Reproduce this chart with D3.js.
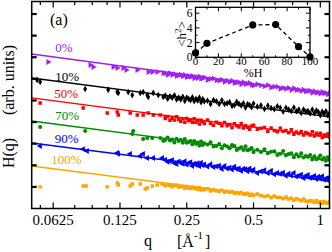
<!DOCTYPE html>
<html><head><meta charset="utf-8">
<script src="https://cdn.jsdelivr.net/npm/d3@7"></script>
<style>
body{margin:0;background:#fff;}
svg{display:block;font-family:"Liberation Serif","Times New Roman",serif;}
</style></head><body>
<svg id="chart" width="332" height="252"></svg>
<script>
// x ticks (log2 spaced) and labels
var qTicks = [0.0625, 0.125, 0.25, 0.5, 1],
  qTickLabels = ['0.0625', '0.125', '0.25', '0.5', '1'],
  yTicks = [1, 2, 3, 4, 5, 6, 7, 8, 9];

var seriesNames = ['0%', '10%', '50%', '70%', '90%', '100%'],
  seriesColors = ['#a020f0', '#000000', '#ff0000', '#008b00', '#0000ff', '#ffa500'];

// straight fits, value at q = 0.05 and q = 1.1
var fitQ = [0.05, 1.1],
  fitLow = [7.15, 6.04, 5.12, 4.05, 3.03, 1.97],
  fitHigh = [5.30, 4.24, 3.31, 2.25, 1.27, 0.21];

// sparse low-q points [q, log H]
var sparse0 = [[0.0593,6.78],[0.0918,6.64],[0.0947,6.55],[0.1166,6.55],[0.1215,6.50],[0.1293,6.50],[0.1334,6.41],[0.1495,6.41],[0.1676,6.32],[0.1747,6.32],[0.184,6.32],[0.1959,6.27]],
  sparse10 = [[0.0529,5.95],[0.0546,5.86],[0.0871,5.53],[0.1106,5.49],[0.1215,5.39],[0.1228,5.35],[0.1362,5.39],[0.142,5.25],[0.1543,5.35],[0.159,5.39],[0.1659,5.25],[0.1676,5.16],[0.1766,5.35],[0.186,5.25],[0.1959,5.16]],
  sparse50 = [[0.0546,4.88],[0.0853,4.65],[0.1095,4.42],[0.1215,4.47],[0.1228,4.33],[0.139,4.42],[0.1495,4.33],[0.159,4.33],[0.1676,4.42],[0.1766,4.33],[0.1899,4.33],[0.2,4.24]],
  sparse70 = [[0.0546,3.77],[0.0871,3.59],[0.142,3.45],[0.1434,3.59],[0.159,3.22],[0.1659,3.26],[0.1747,3.26],[0.1899,3.26],[0.1959,3.13]],
  sparse90 = [[0.0546,2.89],[0.0853,2.75],[0.0889,2.66],[0.1215,2.57],[0.1228,2.53],[0.139,2.53],[0.1543,2.43],[0.159,2.53],[0.1659,2.34],[0.1766,2.34],[0.1939,2.34]],
  sparse100 = [[0.0546,1.00],[0.0853,1.04],[0.088,1.04],[0.1095,1.00],[0.1215,1.18],[0.1228,1.09],[0.139,1.04],[0.142,1.13],[0.1543,1.13],[0.1625,0.90],[0.1659,0.95],[0.1747,1.04],[0.184,1.09],[0.1939,1.13]];

// dense high-q points, shared q grid
var qDense = [0.200,0.205,0.210,0.215,0.220,0.225,0.230,0.235,0.240,0.245,0.250,0.255,0.260,0.265,0.270,0.275,0.280,0.285,0.290,0.295,
  0.30,0.31,0.32,0.33,0.34,0.35,0.36,0.37,0.38,0.39,0.40,0.41,0.42,0.43,0.44,0.45,0.46,0.47,0.48,0.49,
  0.50,0.52,0.54,0.56,0.58,0.60,0.62,0.64,0.66,0.68,0.70,0.72,0.74,0.76,0.78,0.80,0.82,0.84,0.86,0.88,
  0.90,0.92,0.94,0.96,0.98,1.00,1.02,1.04,1.06,1.08,1.10];
var dense0 = [6.26,6.19,6.26,6.19,6.22,6.13,6.17,6.19,6.12,6.18,6.08,6.12,6.09,6.13,6.03,6.09,6.04,6.11,6.01,6.03,
  6.06,5.95,6.00,6.02,5.93,5.92,5.96,5.86,5.92,5.86,5.91,5.81,5.84,5.84,5.75,5.84,5.76,5.78,5.81,5.72,
  5.69,5.75,5.70,5.66,5.71,5.60,5.64,5.64,5.54,5.58,5.54,5.58,5.48,5.57,5.48,5.50,5.44,5.50,5.42,5.44,
  5.45,5.35,5.43,5.36,5.38,5.32,5.40,5.33,5.35,5.28,5.33],
  dense10 = [5.22,5.08,5.19,5.13,5.24,5.05,5.13,5.05,5.17,4.98,5.13,5.07,5.01,5.14,4.97,5.07,5.00,5.13,4.92,5.06,
  4.96,4.99,4.84,5.02,4.96,4.84,5.01,4.84,4.87,4.92,4.75,4.78,4.93,4.84,4.77,4.87,4.67,4.83,4.78,4.69,
  4.86,4.71,4.77,4.61,4.76,4.65,4.60,4.73,4.66,4.49,4.66,4.58,4.51,4.67,4.50,4.58,4.42,4.58,4.49,4.51,
  4.40,4.58,4.41,4.53,4.46,4.32,4.48,4.39,4.50,4.32,4.42],
  dense50 = [4.16,4.26,4.08,4.18,4.09,4.25,4.12,4.04,4.16,3.99,4.17,4.06,4.08,3.99,4.15,3.99,4.08,3.91,4.08,4.01,
  3.93,4.10,3.93,3.85,3.99,3.94,3.83,3.98,3.83,3.89,3.75,3.92,3.83,3.77,3.93,3.73,3.83,3.76,3.67,3.82,
  3.85,3.67,3.71,3.75,3.57,3.73,3.61,3.55,3.72,3.58,3.61,3.50,3.64,3.43,3.54,3.47,3.57,3.40,3.52,3.46,
  3.40,3.55,3.36,3.48,3.40,3.48,3.29,3.40,3.34,3.45,3.31],
  dense70 = [3.17,3.29,3.15,3.19,3.06,3.23,3.12,3.18,3.04,3.21,3.04,3.08,3.12,2.97,3.12,3.00,3.05,2.91,3.10,2.94,
  3.02,2.96,3.07,2.87,2.89,2.98,2.79,2.93,2.87,2.79,2.94,2.89,2.71,2.78,2.83,2.71,2.88,2.70,2.73,2.80,
  2.61,2.72,2.62,2.74,2.56,2.63,2.65,2.48,2.53,2.66,2.46,2.52,2.56,2.37,2.51,2.41,2.55,2.36,2.43,2.39,
  2.48,2.27,2.42,2.28,2.33,2.45,2.27,2.34,2.21,2.37,2.25],
  dense90 = [2.26,2.16,2.20,2.24,2.10,2.06,2.18,2.12,2.07,2.19,2.03,2.11,2.14,1.97,2.07,2.02,2.10,1.96,2.12,2.00,
  2.04,1.94,2.05,1.92,1.95,1.98,1.83,1.97,1.85,1.89,1.80,1.94,1.83,1.85,1.74,1.84,1.82,1.72,1.85,1.74,
  1.80,1.64,1.72,1.77,1.64,1.75,1.58,1.65,1.60,1.66,1.51,1.61,1.53,1.65,1.48,1.52,1.57,1.41,1.51,1.55,
  1.42,1.44,1.51,1.36,1.47,1.39,1.49,1.33,1.39,1.41,1.26],
  dense100 = [1.05,1.10,1.06,1.00,1.07,1.08,0.99,1.01,1.02,0.94,1.02,0.95,0.92,1.00,0.93,0.94,0.89,0.96,0.85,0.91,
  0.87,0.91,0.81,0.86,0.82,0.79,0.85,0.75,0.80,0.75,0.79,0.69,0.74,0.69,0.74,0.67,0.66,0.71,0.61,0.66,
  0.61,0.67,0.59,0.55,0.59,0.50,0.58,0.51,0.51,0.45,0.53,0.44,0.47,0.38,0.45,0.41,0.36,0.44,0.35,0.31,
  0.37,0.35,0.29,0.36,0.28,0.31,0.24,0.32,0.26,0.24,0.31];

// inset: <h^2> against hydrogen fraction
var hPercent = [0, 10, 50, 70, 90, 100],
  hSquared = [0.6, 1.9, 4.4, 4.45, 1.45, 0.05],
  insetXTicks = [0, 20, 40, 60, 80, 100],
  insetYTicks = [0, 2, 4, 6];

(function(){
var svg = d3.select('#chart'),
  frame = {left: 31.7, right: 329.5, top: 1.5, bottom: 208.5},
  x = d3.scaleLog().domain([0.05, 1.1]).range([frame.left, frame.right]),
  y = d3.scaleLinear().domain([0, 9.58]).range([frame.bottom, frame.top]),
  sparse = [sparse0, sparse10, sparse50, sparse70, sparse90, sparse100],
  dense = [dense0, dense10, dense50, dense70, dense90, dense100],
  symbols = [
    {type: d3.symbolTriangle, rot: 90, size: 15},
    {type: d3.symbolDiamond, rot: 0, size: 13},
    {type: d3.symbolSquare, rot: 0, size: 12},
    {type: d3.symbolCircle, rot: 0, size: 13},
    {type: d3.symbolTriangle, rot: -90, size: 15},
    {type: d3.symbolSquare, rot: 0, size: 12}
  ],
  // label anchors in data units
  labelQ = [0.0638, 0.0638, 0.0632, 0.0638, 0.0635, 0.0612],
  labelV = [7.25, 5.90, 5.12, 4.10, 3.03, 2.06];

svg.append('rect').attr('width', 332).attr('height', 252).attr('fill', '#fff');

svg.append('clipPath').attr('id', 'clip').append('rect')
  .attr('x', frame.left).attr('y', frame.top)
  .attr('width', frame.right - frame.left).attr('height', frame.bottom - frame.top);

var plot = svg.append('g').attr('clip-path', 'url(#clip)');

seriesNames.forEach(function(name, i){
  var col = seriesColors[i], sym = symbols[i];
  plot.append('line')
    .attr('x1', x(fitQ[0])).attr('y1', y(fitLow[i]))
    .attr('x2', x(fitQ[1])).attr('y2', y(fitHigh[i]))
    .attr('stroke', col).attr('stroke-width', 1.4);
  var pts = sparse[i].concat(qDense.map(function(q, k){ return [q, dense[i][k]]; }));
  plot.append('g').selectAll('path').data(pts).enter().append('path')
    .attr('d', d3.symbol().type(sym.type).size(sym.size))
    .attr('transform', function(d){
      return 'translate(' + x(d[0]) + ',' + y(d[1]) + ') rotate(' + sym.rot + ')';
    })
    .attr('fill', col);
  svg.append('text').attr('x', x(labelQ[i])).attr('y', y(labelV[i]))
    .attr('fill', col).attr('font-size', 13).text(name);
});

// ticks, mirrored and pointing inward
var minorQ = [0.0546875].concat(d3.merge(qTicks.map(function(t){ return [t * 1.25, t * 1.5, t * 1.75]; })))
  .filter(function(q){ return q > 0.05 && q < 1.1; });
var ticks = svg.append('g').attr('stroke', '#000');
function vTicks(vals, len, w){
  vals.forEach(function(q){
    ticks.append('line').attr('x1', x(q)).attr('x2', x(q))
      .attr('y1', frame.bottom).attr('y2', frame.bottom - len).attr('stroke-width', w);
    ticks.append('line').attr('x1', x(q)).attr('x2', x(q))
      .attr('y1', frame.top).attr('y2', frame.top + len).attr('stroke-width', w);
  });
}
vTicks(qTicks, 6, 1.2);
vTicks(minorQ, 3.5, 1.2);
yTicks.forEach(function(v){
  ticks.append('line').attr('x1', frame.left).attr('x2', frame.left + 5)
    .attr('y1', y(v)).attr('y2', y(v)).attr('stroke-width', 2.2);
  ticks.append('line').attr('x1', frame.right).attr('x2', frame.right - 5)
    .attr('y1', y(v)).attr('y2', y(v)).attr('stroke-width', 2.2);
});

svg.append('rect').attr('x', frame.left).attr('y', frame.top)
  .attr('width', frame.right - frame.left).attr('height', frame.bottom - frame.top)
  .attr('fill', 'none').attr('stroke', '#000').attr('stroke-width', 1.5);

svg.append('g').selectAll('text').data(qTicks).enter().append('text')
  .attr('x', function(d){ return x(d); }).attr('y', 225)
  .attr('text-anchor', 'middle').attr('font-size', 15)
  .text(function(d, i){ return qTickLabels[i]; });

svg.append('text').attr('x', 148).attr('y', 246).attr('text-anchor', 'middle')
  .attr('font-size', 16).text('q');
var ax = svg.append('text').attr('x', 177).attr('y', 247).attr('font-size', 16);
ax.append('tspan').text('[Å');
ax.append('tspan').attr('dy', -8).attr('font-size', 11).text('-1');
ax.append('tspan').attr('dy', 8).attr('dx', 2).text(']');

svg.append('text').attr('transform', 'translate(14,153) rotate(-90)')
  .attr('text-anchor', 'middle').attr('font-size', 16).text('H(q)');
svg.append('text').attr('transform', 'translate(14,80) rotate(-90)')
  .attr('text-anchor', 'middle').attr('font-size', 16).text('(arb. units)');

svg.append('text').attr('x', 50).attr('y', 25).attr('font-size', 16).text('(a)');

// inset
var inset = {left: 195.5, right: 310, top: 7.3, bottom: 57.3},
  ix = d3.scaleLinear().domain([0, 100]).range([inset.left, inset.right]),
  iy = d3.scaleLinear().domain([0, 6.8]).range([inset.bottom, inset.top]),
  ig = svg.append('g');
ig.append('rect').attr('x', inset.left).attr('y', inset.top)
  .attr('width', inset.right - inset.left).attr('height', inset.bottom - inset.top)
  .attr('fill', '#fff').attr('stroke', '#000').attr('stroke-width', 1.3);
d3.range(0, 101, 10).forEach(function(v){
  var len = v % 20 === 0 ? 4 : 2;
  ig.append('line').attr('x1', ix(v)).attr('x2', ix(v)).attr('y1', inset.bottom).attr('y2', inset.bottom - len).attr('stroke', '#000');
  ig.append('line').attr('x1', ix(v)).attr('x2', ix(v)).attr('y1', inset.top).attr('y2', inset.top + len).attr('stroke', '#000');
});
d3.range(0, 7, 1).forEach(function(v){
  var len = v % 2 === 0 ? 4 : 2;
  ig.append('line').attr('y1', iy(v)).attr('y2', iy(v)).attr('x1', inset.left).attr('x2', inset.left + len).attr('stroke', '#000');
  ig.append('line').attr('y1', iy(v)).attr('y2', iy(v)).attr('x1', inset.right).attr('x2', inset.right - len).attr('stroke', '#000');
});
ig.selectAll('text.xt').data(insetXTicks).enter().append('text')
  .attr('x', function(d){ return ix(d); }).attr('y', 65)
  .attr('text-anchor', 'middle').attr('font-size', 11).text(function(d){ return d; });
ig.selectAll('text.yt').data(insetYTicks).enter().append('text')
  .attr('x', inset.left - 3).attr('y', function(d){ return iy(d) + 4; })
  .attr('text-anchor', 'end').attr('font-size', 11.5).text(function(d){ return d; });
ig.append('path').datum(hPercent)
  .attr('d', d3.line().x(function(d){ return ix(d); }).y(function(d, i){ return iy(hSquared[i]); }))
  .attr('fill', 'none').attr('stroke', '#000').attr('stroke-width', 1.3).attr('stroke-dasharray', '4,3');
ig.selectAll('circle').data(hPercent).enter().append('circle')
  .attr('cx', function(d){ return ix(d); }).attr('cy', function(d, i){ return iy(hSquared[i]); })
  .attr('r', 3.6).attr('fill', '#000');
ig.append('text').attr('x', 253).attr('y', 77).attr('text-anchor', 'middle')
  .attr('font-size', 12).text('%H');
var yl = ig.append('text').attr('transform', 'translate(186,34) rotate(-90)')
  .attr('text-anchor', 'middle').attr('font-size', 13);
yl.append('tspan').text('<h');
yl.append('tspan').attr('dy', -5).attr('font-size', 9).text('2');
yl.append('tspan').attr('dy', 5).text('>');
})();
</script>
</body></html>
